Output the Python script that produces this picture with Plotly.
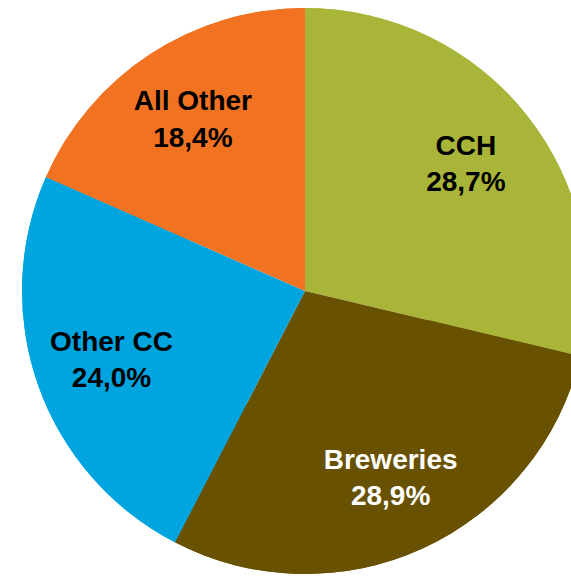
import plotly.graph_objects as go

labels = ["CCH", "Breweries", "Other CC", "All Other"]
shares = [28.7, 28.9, 24.0, 18.4]
colors = ["#A9B538", "#685100", "#00A5E0", "#F17322"]
text_colors = ["#000000", "#FFFFFF", "#000000", "#000000"]

# figure is bigger than the window so the pie runs off the right/bottom edge like the reference
W, H = 600, 592
cx, cy, R = 305, 291, 283
pie_domain = dict(x=[(cx - R) / W, (cx + R) / W], y=[(H - cy - R) / H, (H - cy + R) / H])

fig = go.Figure()

# solid pie underneath (no text)
fig.add_trace(go.Pie(
    labels=labels, values=shares, sort=False, direction="clockwise", rotation=0,
    marker=dict(colors=colors, line=dict(width=0)),
    textinfo="none", hoverinfo="skip",
    domain=pie_domain,
))

# same pie with a hole on top: the hole pushes the inside labels outward like in the reference
fig.add_trace(go.Pie(
    labels=labels, values=shares, sort=False, direction="clockwise", rotation=0,
    hole=0.45,
    marker=dict(colors=colors, line=dict(width=0)),
    texttemplate="%{label}<br>%{percent:.1%}",
    textposition="inside",
    insidetextorientation="horizontal",
    textfont=dict(family="Liberation Sans, Arial", size=28, weight="bold", color=text_colors),
    hoverinfo="label+percent",
    domain=pie_domain,
))

fig.update_layout(
    width=W,
    height=H,
    margin=dict(l=0, r=0, t=0, b=0),
    showlegend=False,
    separators=",.",
    paper_bgcolor="white",
)

fig.write_html(
    "out.html",
    config={"displayModeBar": False},
    post_script="document.body.style.margin='0';document.body.style.overflow='hidden';",
)
